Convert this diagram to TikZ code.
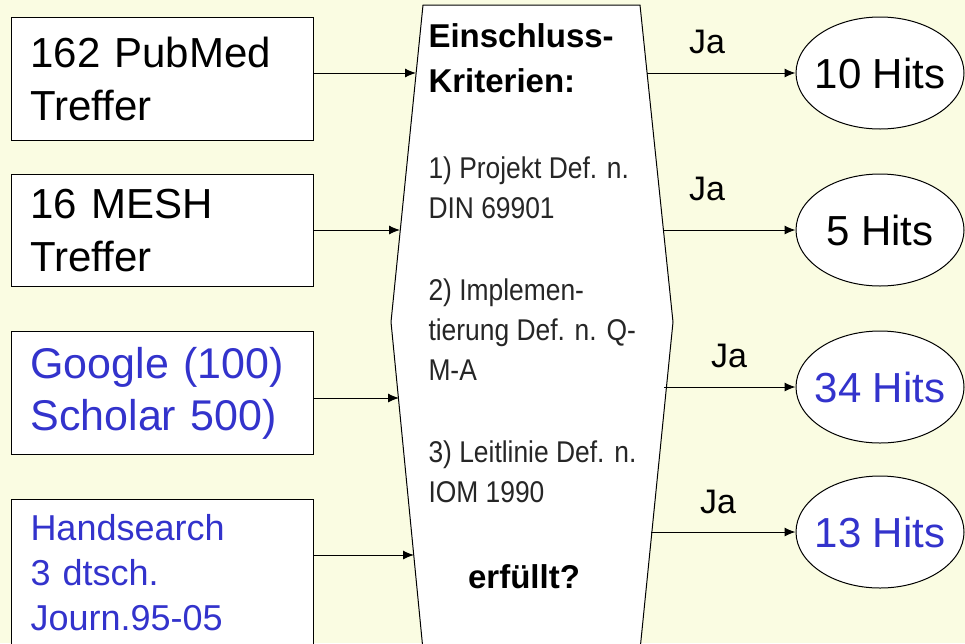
\documentclass[tikz,border=0pt]{standalone}
\usepackage{fontspec}
\setmainfont{Liberation Sans}
\newfontfamily\narrowfont[FakeStretch=0.88]{Liberation Sans}
\usetikzlibrary{shapes,arrows,arrows.meta}
\definecolor{bgyellow}{RGB}{250,252,226}
\definecolor{hitblue}{RGB}{51,51,204}

\begin{document}
\begin{tikzpicture}[x=1pt,y=-1pt,line width=1pt,>={Latex[length=11pt,width=9pt]}]
        % pale background, also fixes the size
        \fill[bgyellow] (0,0) rectangle (965,643);
        \useasboundingbox (0,0) rectangle (965,643);
        \tikzstyle{source} = [draw,rectangle,fill=white,anchor=north west,minimum width=302pt,text width=264pt,inner xsep=19pt,align=left];
        \tikzstyle{crit} = [anchor=north west,inner sep=0pt,align=left,text=black!85,font=\narrowfont\fontsize{30}{40}\selectfont];
        \tikzstyle{hits} = [draw,ellipse,fill=white,minimum width=168pt,minimum height=112pt,inner xsep=-7pt,inner ysep=0pt,font=\fontsize{42}{48}\selectfont];
        \tikzstyle{ja} = [anchor=base,font=\fontsize{34}{40}\selectfont];

        \node[source,minimum height=123pt,font=\fontsize{42}{53}\selectfont] (pubmed) at (11,17) {162 PubMed\\Treffer};
        \node[source,minimum height=112pt,font=\fontsize{42}{53}\selectfont] (mesh) at (11,174) {16 MESH\\Treffer};
        \node[source,minimum height=123pt,text=hitblue,font=\fontsize{43}{52}\selectfont] (google) at (11,331) {Google (100)\\Scholar 500)};
        \node[source,inner ysep=15pt,text=hitblue,font=\fontsize{36}{45}\selectfont] (hand) at (11,499) {Handsearch\\3 dtsch.\\Journ.95-05};

        % the criteria shape
        \draw[fill=white] (423,5) -- (640,5) -- (673,322) -- (640,650) -- (423,650) -- (391,322) -- cycle;
        \coordinate (in1) at (416,73);
        \coordinate (in2) at (400,230);
        \coordinate (in3) at (399,398);
        \coordinate (in4) at (414,555);
        \coordinate (out1) at (647,73);
        \coordinate (out2) at (663,230);
        \coordinate (out3) at (664,387);
        \coordinate (out4) at (651,532);

        \node[anchor=north west,inner sep=0pt,align=left,font=\bfseries\fontsize{33}{45}\selectfont] (head) at (428,23) {Einschluss-\\Kriterien:};
        \node[crit] (def1) at (428,156) {1) Projekt Def. n.\\DIN 69901};
        \node[crit] (def2) at (428,278) {2) Implemen-\\tierung Def. n. Q-\\M-A};
        \node[crit] (def3) at (428,440) {3) Leitlinie Def. n.\\IOM 1990};
        \node[anchor=base,font=\bfseries\fontsize{33}{40}\selectfont] (met) at (524,588) {erfüllt?};

        \node[hits] (hit1) at (880,73) {10 Hits};
        \node[hits] (hit2) at (880,230) {5 Hits};
        \node[hits,text=hitblue] (hit3) at (880,387) {34 Hits};
        \node[hits,text=hitblue] (hit4) at (880,532) {13 Hits};

        \draw[->] (pubmed.east |- in1) -- (in1);
        \draw[->] (mesh.east |- in2) -- (in2);
        \draw[->] (google.east |- in3) -- (in3);
        \draw[->] (hand.east |- in4) -- (in4);

        \draw[->] (out1) -- (hit1);
        \draw[->] (out2) -- (hit2);
        \draw[->] (out3) -- (hit3);
        \draw[->] (out4) -- (hit4);

        \node[ja] (ja1) at (707,53) {Ja};
        \node[ja] (ja2) at (707,200) {Ja};
        \node[ja] (ja3) at (729,367) {Ja};
        \node[ja] (ja4) at (718,513) {Ja};

    \end{tikzpicture}
\end{document}
